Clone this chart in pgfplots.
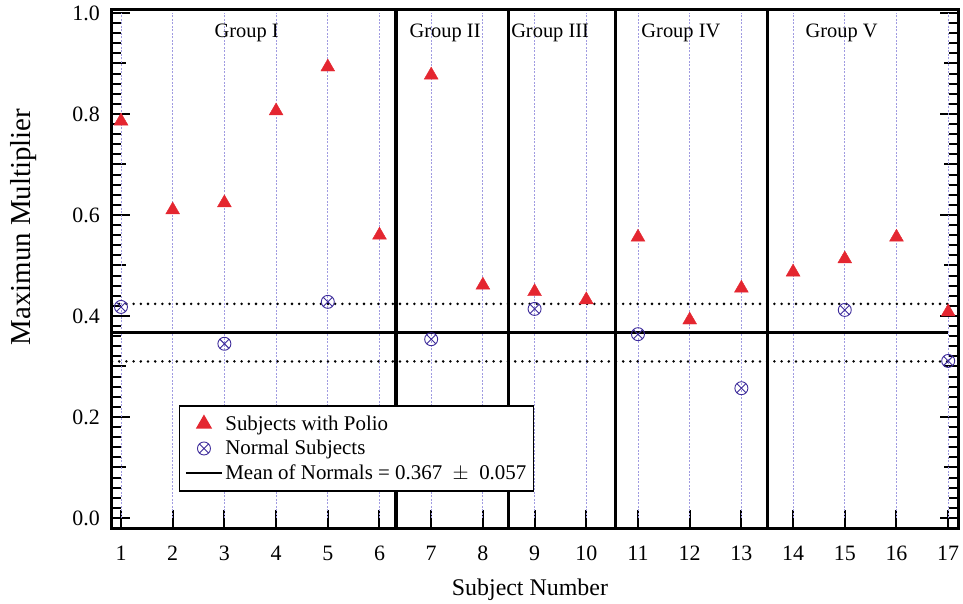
\documentclass[border=0pt]{standalone}
\usepackage{pgfplots}
\pgfplotsset{compat=1.18}
\usepackage{fontspec}
\setmainfont{Liberation Serif}
\definecolor{polio}{RGB}{228,38,48}
\definecolor{normal}{RGB}{62,44,155}
\definecolor{gridc}{RGB}{160,155,225}
\begin{document}
\begin{tikzpicture}
\useasboundingbox (-112bp,-76bp) rectangle (851bp,528bp);
\begin{axis}[
  scale only axis,
  width=846bp, height=518bp,
  xmin=0.826, xmax=17.19,
  ymin=-0.0198, ymax=1.0059,
  axis line style={line width=3bp},
  every tick/.style={black, line width=2bp},
  tick align=inside,
  xtick={1,...,17},
  xtick pos=bottom,
  ytick={0,0.2,...,1.0},
  ytick pos=both,
  minor y tick num=9,
  extra y ticks={0.1,0.3,0.5,0.7,0.9},
  extra y tick labels={},
  extra y tick style={major tick length=14bp},
  major tick length=18bp,
  minor tick length=9bp,
  yticklabel style={/pgf/number format/fixed, /pgf/number format/fixed zerofill, /pgf/number format/precision=1, anchor=east, inner sep=0pt, xshift=-12bp},
  xticklabel style={anchor=base, inner sep=0pt, yshift=-32bp},
  /pgf/number format/assume math mode=true,
  ticklabel style={font=\fontsize{22}{25}\selectfont},
  xlabel={Subject Number},
  ylabel={Maximun Multiplier},
  xlabel style={font=\fontsize{24}{27}\selectfont, at={(axis description cs:0.494,0)}, anchor=base, yshift=-67bp},
  ylabel style={font=\fontsize{29}{32}\selectfont, at={(axis description cs:-0.105,0.581)}, anchor=center},
  legend style={at={(axis description cs:0.079,0.237)}, anchor=north west, draw=black, line width=1.5bp, font=\fontsize{21}{24}\selectfont, inner xsep=5bp, inner ysep=8bp, row sep=4.5bp, cells={anchor=west}},
  legend cell align=left,
  legend image code/.code={\draw[mark repeat=2,mark phase=2,#1] plot coordinates {(0bp,0bp)(18bp,0bp)(36bp,0bp)};},
  clip=false,
]
% vertical grid lines
\pgfplotsinvokeforeach{1,...,17}{
  \draw[gridc, line width=0.8bp, dash pattern=on 2bp off 1.5bp] (axis cs:#1,0) -- (axis cs:#1,1);
}
% group separators
\pgfplotsinvokeforeach{6.32,8.49,10.56,13.5}{
  \draw[black, line width=3.2bp] (axis cs:#1,-0.0198) -- (axis cs:#1,1.0059);
}
\addplot[only marks, mark=triangle*, mark size=8bp, color=polio, mark options={fill=polio, draw=polio}] coordinates {
(1,0.786)(2,0.610)(3,0.624)(4,0.806)(5,0.893)(6,0.560)(7,0.877)(8,0.461)(9,0.448)(10,0.432)(11,0.556)(12,0.392)(13,0.455)(14,0.487)(15,0.513)(16,0.556)(17,0.408)
};
\addlegendentry{Subjects with Polio}
\addplot[only marks, mark=otimes, mark size=6.5bp, color=normal, mark options={line width=0.9bp}] coordinates {
(1,0.418)(3,0.345)(5,0.428)(7,0.354)(9,0.414)(11,0.364)(13,0.257)(15,0.412)(17,0.311)
};
\addlegendentry{Normal Subjects}
\addplot[black, line width=2.8bp, mark=none] coordinates {(0.826,0.367)(17,0.367)};
\addlegendentry{Mean of Normals = 0.367\ \ $\pm$\ \ 0.057}
\addplot[black, line width=2.8bp, dash pattern=on 0bp off 7.2bp, line cap=round, forget plot] coordinates {(0.826,0.424)(17,0.424)};
\addplot[black, line width=2.8bp, dash pattern=on 0bp off 7.2bp, line cap=round, forget plot] coordinates {(0.826,0.310)(17,0.310)};
% group labels
\node[anchor=base, font=\fontsize{20.5}{23}\selectfont] at (axis cs:3.43,0.952) {Group I};
\node[anchor=base, font=\fontsize{20.5}{23}\selectfont] at (axis cs:7.27,0.952) {Group II};
\node[anchor=base, font=\fontsize{20.5}{23}\selectfont] at (axis cs:9.30,0.952) {Group III};
\node[anchor=base, font=\fontsize{20.5}{23}\selectfont] at (axis cs:11.83,0.952) {Group IV};
\node[anchor=base, font=\fontsize{20.5}{23}\selectfont] at (axis cs:14.94,0.952) {Group V};
\end{axis}
\end{tikzpicture}
\end{document}
